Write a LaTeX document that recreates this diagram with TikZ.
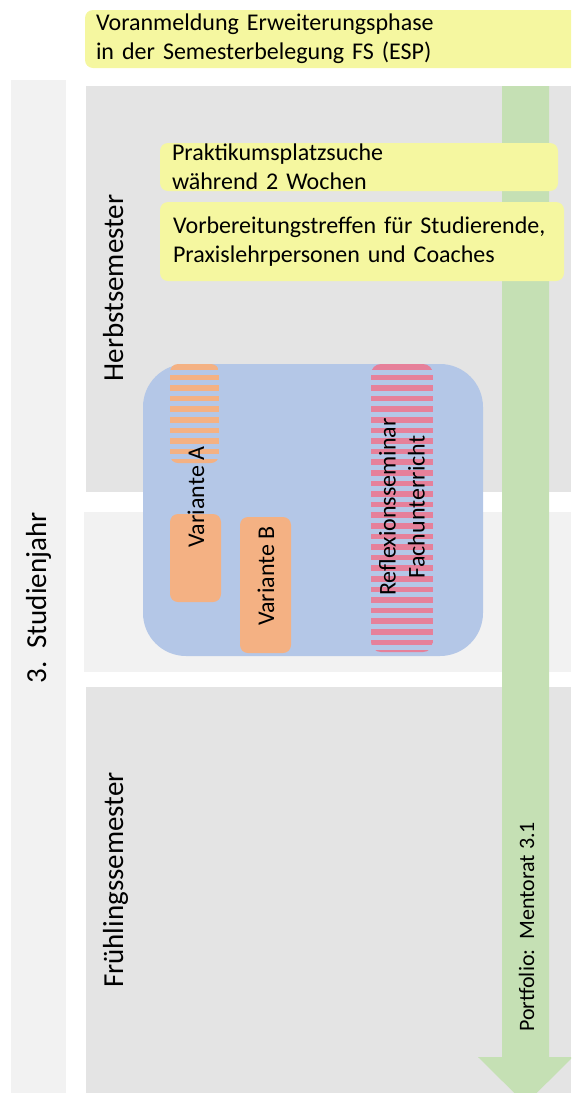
\documentclass[tikz,border=0pt]{standalone}
\usepackage{fontspec}
\setmainfont{Carlito}
\usetikzlibrary{positioning}

\definecolor{yearGray}{HTML}{F2F2F2}
\definecolor{semGray}{HTML}{E4E4E4}
\definecolor{midGray}{HTML}{F2F2F2}
\definecolor{noteYellow}{HTML}{F5F7A0}
\definecolor{blockBlue}{HTML}{B4C7E7}
\definecolor{varOrange}{HTML}{F4B183}
\definecolor{seminarPink}{HTML}{E6809A}
\definecolor{portGreen}{HTML}{C5E0B4}

\begin{document}
\begin{tikzpicture}[
    x=1pt, y=-1pt,
    note/.style={rectangle, rounded corners=8pt, fill=noteYellow, inner xsep=12pt, inner ysep=0pt, align=left, font=\fontsize{24}{29}\selectfont},
    vlabel/.style={rotate=90, inner sep=0pt, font=\fontsize{24}{29}\selectfont},
    biglabel/.style={rotate=90, inner sep=0pt, anchor=base, font=\fontsize{29}{35}\selectfont},
    variant/.style={rectangle, rounded corners=8pt, fill=varOrange, inner sep=0pt}
]

\clip (0,0) rectangle (571,1093);

% Year column and semester bands
\fill[yearGray] (11,80) rectangle (66,1100);
\fill[semGray] (86,86) rectangle (571,492);
\fill[midGray] (84,512) rectangle (571,672);
\fill[semGray] (86,687) rectangle (571,1100);

% Portfolio arrow
\fill[portGreen] (502,86) -- (549,86) -- (549,1057) -- (573,1057) -- (525.5,1104)
    -- (478,1057) -- (502,1057) -- cycle;
\node[vlabel, anchor=base west, font=\fontsize{22}{27}\selectfont] (portfolio) at (534,1032)
    {Portfolio:\ \ Mentorat 3.1};

% Labels of year and semesters
\node[biglabel] (year) at (46,598) {3.\ \ Studienjahr};
\node[biglabel] (herbst) at (123,288) {Herbstsemester};
\node[biglabel] (fruehling) at (123,880) {Frühlingssemester};

% Notes
\node[note, inner xsep=11pt, text width=483pt, minimum height=58pt] (prereg) at (337.5,39)
    {Voranmeldung Erweiterungsphase\\in der Semesterbelegung FS (ESP)};
\node[note, text width=374pt, minimum height=48pt] (search) at (359,167)
    {Praktikumsplatzsuche\\während 2 Wochen};
\node[note, inner xsep=13pt, text width=378pt, minimum height=79pt] (meeting) at (362,241.5)
    {Vorbereitungstreffen für Studierende,\\Praxislehrpersonen und Coaches};

% Practicum block
\node[rectangle, rounded corners=43pt, fill=blockBlue, inner sep=0pt,
    minimum width=340pt, minimum height=292pt] (block) at (313,510) {};

% Variante A: striped part in autumn, solid part at the turn
\begin{scope}
    \clip[rounded corners=8pt] (170,364) rectangle (219,463);
    \foreach \k in {0,...,9}
        \fill[varOrange] (170,{364+10.6*\k}) rectangle (219,{369.6+10.6*\k});
\end{scope}
\node[variant, minimum width=51pt, minimum height=88pt] (varA) at (195.5,558) {};
\node[vlabel] (varAtext) at (196,497) {Variante A};

% Variante B
\node[variant, minimum width=51pt, minimum height=136pt] (varB) at (265.5,585) {};
\node[vlabel] (varBtext) at (266,576) {Variante B};

% Reflexionsseminar
\begin{scope}
    \clip[rounded corners=10pt] (371,364) rectangle (433,652);
    \foreach \k in {0,...,27}
        \fill[seminarPink] (371,{364+10.6*\k}) rectangle (433,{369.6+10.6*\k});
\end{scope}
\node[vlabel, align=center] (seminar) at (402,507) {Reflexionsseminar\\Fachunterricht};

\end{tikzpicture}
\end{document}
